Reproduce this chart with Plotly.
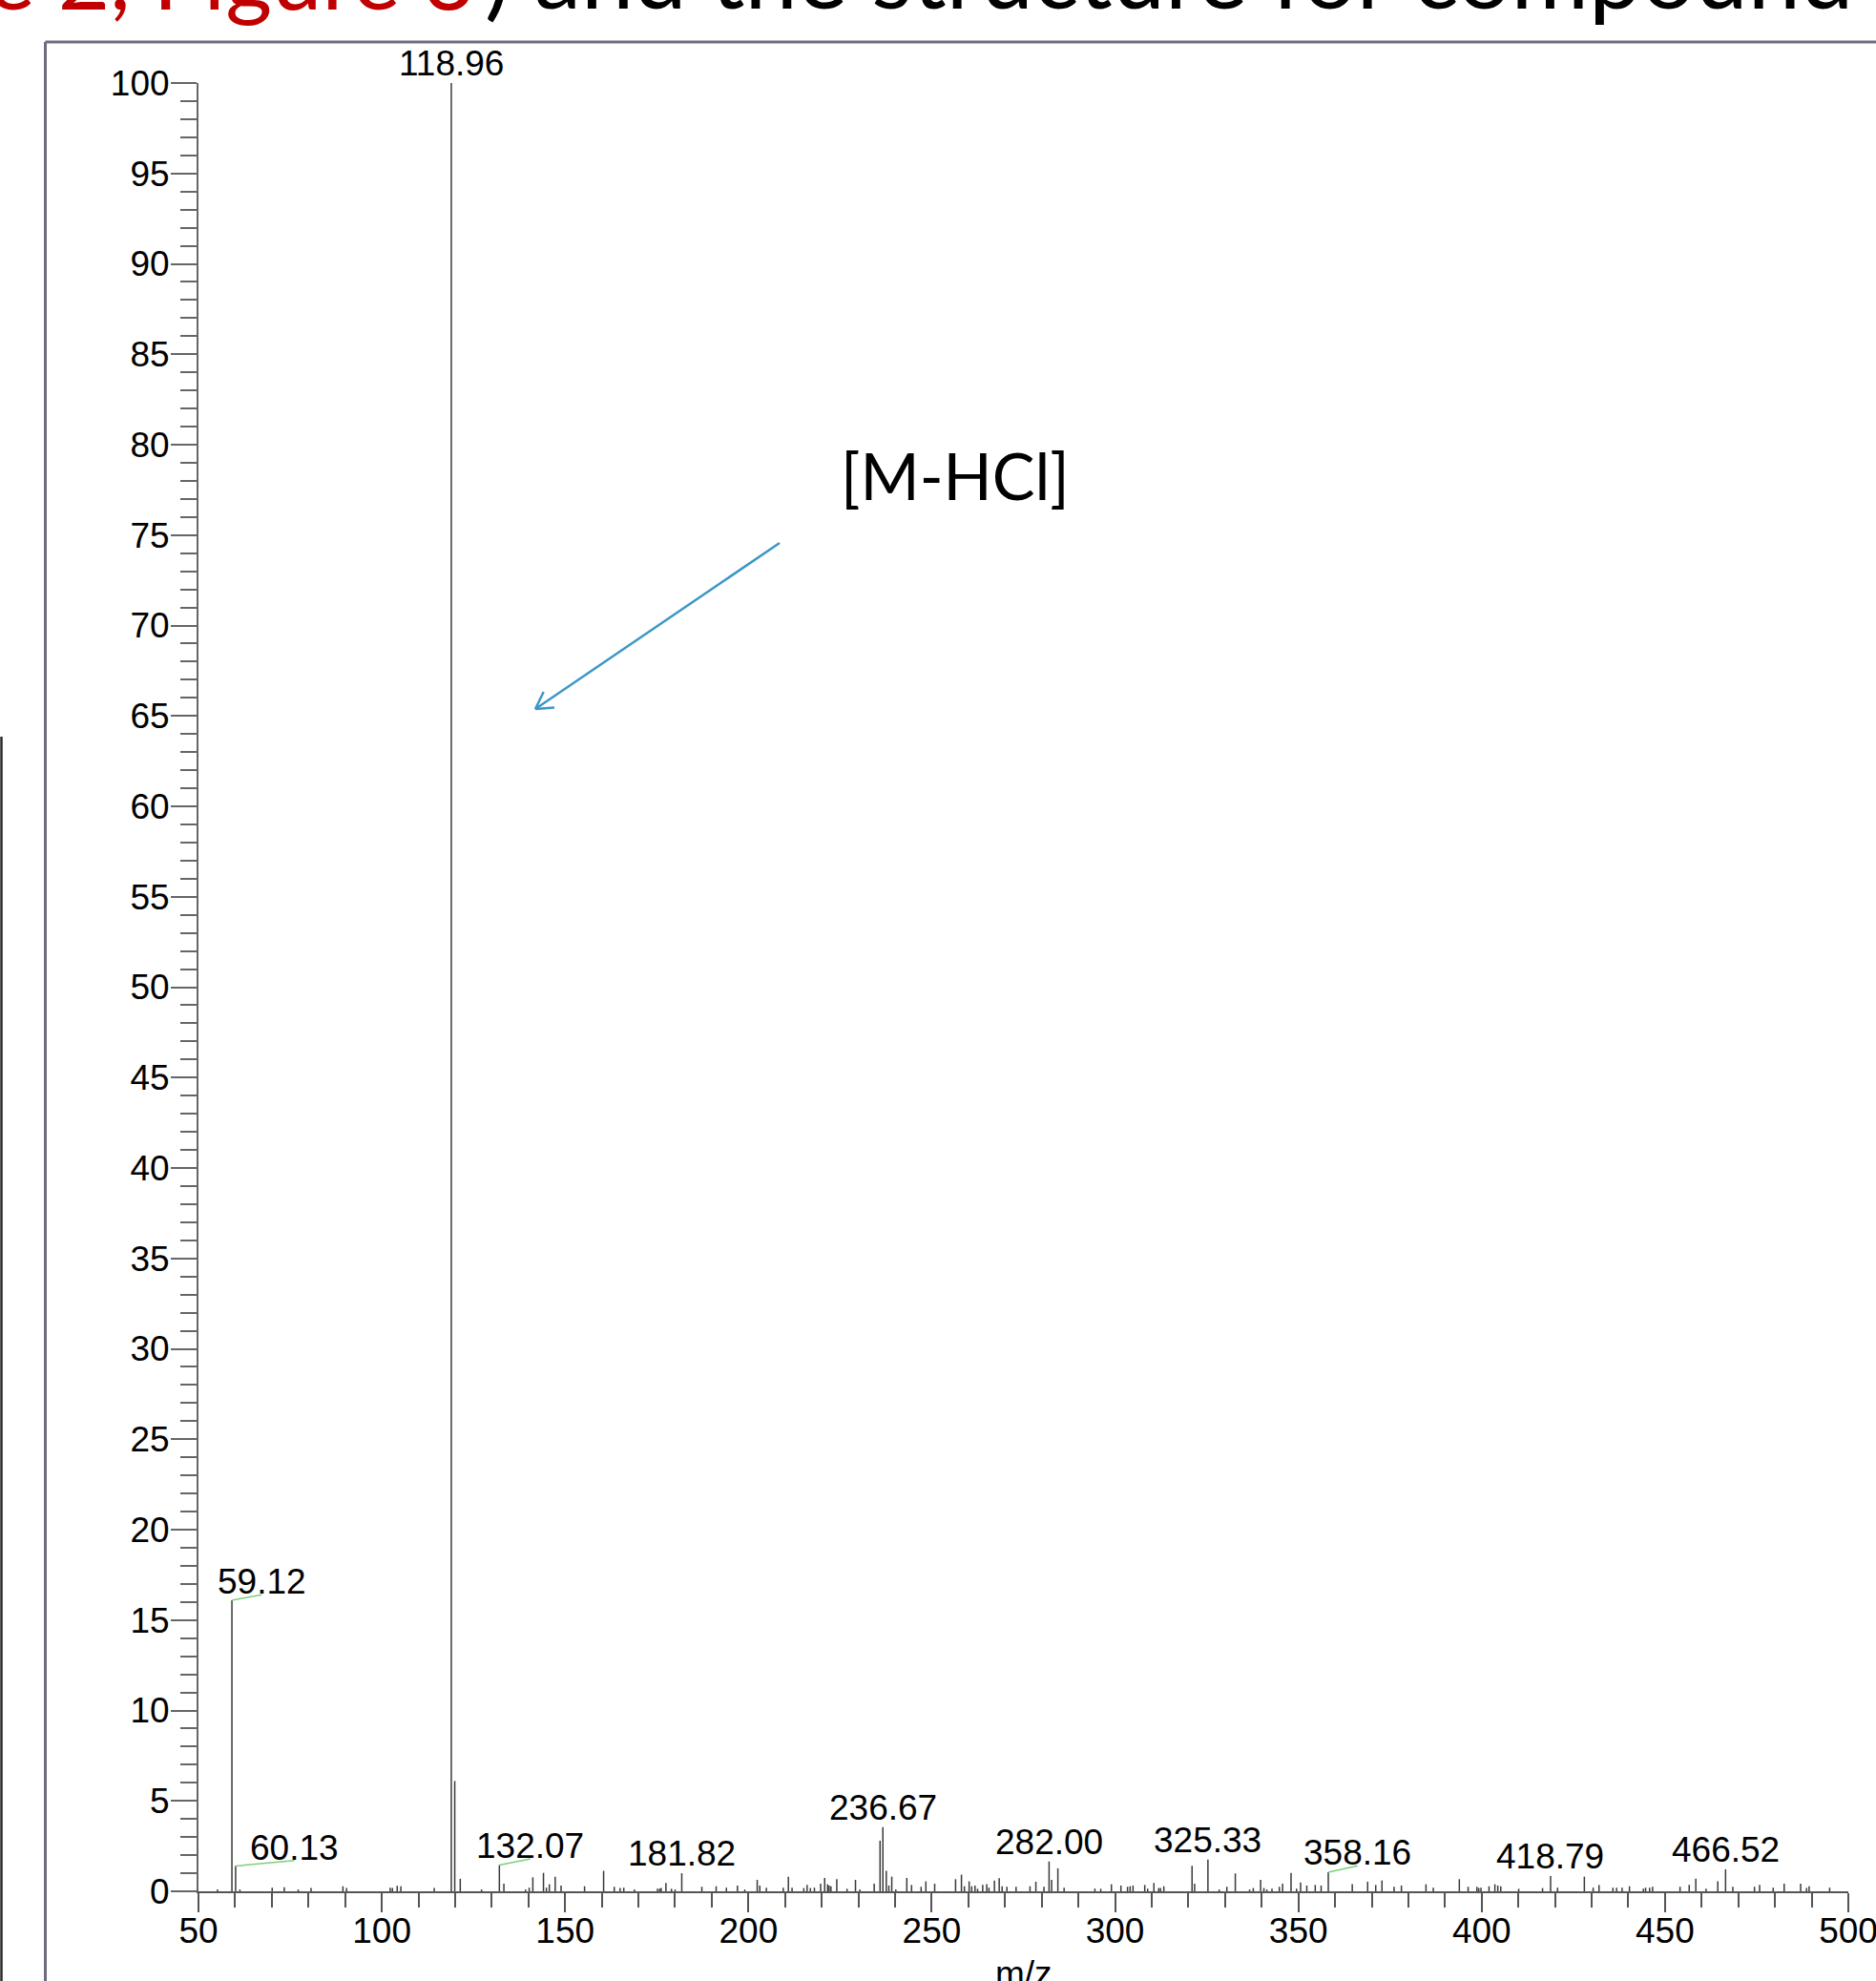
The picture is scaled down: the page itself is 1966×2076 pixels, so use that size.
import plotly.graph_objects as go
import math

# ---------------- data ----------------
mz = [55.2, 59.12, 60.13, 61.3, 70.1, 73.4, 77.2, 80.7, 89.4, 90.4, 102.3, 102.9, 104.2, 105.2, 114.3,
      118.96, 119.9, 121.4, 127.2, 132.07, 133.3, 139.2, 140.2, 141.2, 144.1, 144.9, 145.7, 147.3, 148.9,
      155.3, 160.5, 163.4, 165.0, 166.0, 168.9, 175.2, 175.8, 176.2, 177.5, 179.0, 180.0, 181.82, 187.3,
      191.2, 194.0, 197.0, 199.0, 202.4, 203.1, 204.9, 209.5, 210.9, 211.9, 215.1, 216.0, 216.9, 218.0,
      219.7, 220.8, 221.6, 222.0, 222.5, 224.1, 226.9, 229.2, 230.4, 234.3, 235.9, 236.67, 237.6, 238.3,
      239.1, 240.2, 243.2, 244.5, 247.1, 248.4, 250.8, 256.5, 258.1, 258.9, 260.2, 260.9, 261.8, 262.5,
      263.9, 265.0, 265.6, 267.1, 268.4, 269.2, 270.5, 273.0, 276.8, 278.4, 280.6, 282.00, 282.7, 284.4,
      286.1, 294.5, 296.1, 299.0, 301.6, 303.4, 304.1, 304.9, 308.1, 308.9, 310.6, 311.9, 312.4, 313.3,
      321.0, 321.7, 325.33, 328.4, 330.5, 332.8, 336.7, 337.7, 339.7, 340.6, 341.4, 342.8, 344.8, 345.7,
      348.0, 349.5, 350.6, 352.3, 354.6, 356.2, 358.16, 364.7, 368.9, 371.1, 372.8, 376.1, 378.1, 384.8,
      386.8, 393.9, 396.3, 398.7, 399.2, 399.8, 402.0, 403.6, 404.4, 405.2, 410.1, 416.6, 418.79, 420.7,
      428.0, 430.4, 432.0, 435.8, 436.8, 438.3, 440.3, 444.1, 444.7, 445.8, 446.6, 454.1, 456.6, 458.4,
      461.2, 464.4, 466.52, 468.5, 474.4, 475.8, 479.5, 482.5, 487.0, 488.6, 489.3, 494.9]
intensity = [0.1, 16.1, 1.4, 0.1, 0.2, 0.23, 0.1, 0.18, 0.28, 0.18, 0.2, 0.18, 0.3, 0.28, 0.18,
             100.0, 6.1, 0.69, 0.1, 1.45, 0.42, 0.1, 0.2, 0.77, 1.02, 0.2, 0.39, 0.81, 0.32,
             0.28, 1.13, 0.25, 0.18, 0.2, 0.1, 0.15, 0.15, 0.18, 0.46, 0.14, 0.1, 1.0, 0.25,
             0.28, 0.2, 0.32, 0.1, 0.63, 0.32, 0.2, 0.2, 0.81, 0.2, 0.18, 0.35, 0.18, 0.2,
             0.42, 0.74, 0.39, 0.32, 0.28, 0.67, 0.14, 0.63, 0.1, 0.42, 2.8, 3.55, 1.13, 0.32,
             0.81, 0.1, 0.74, 0.35, 0.25, 0.55, 0.42, 0.67, 0.92, 0.28, 0.55, 0.28, 0.32, 0.14,
             0.35, 0.4, 0.2, 0.6, 0.72, 0.28, 0.25, 0.25, 0.28, 0.53, 0.25, 1.65, 0.63, 1.27,
             0.2, 0.15, 0.14, 0.39, 0.32, 0.25, 0.28, 0.32, 0.35, 0.14, 0.46, 0.18, 0.18, 0.28,
             1.41, 0.42, 1.75, 0.1, 0.25, 0.99, 0.1, 0.18, 0.63, 0.18, 0.1, 0.14, 0.25, 0.42,
             1.02, 0.15, 0.49, 0.32, 0.35, 0.32, 1.06, 0.39, 0.53, 0.35, 0.6, 0.25, 0.32, 0.39,
             0.2, 0.67, 0.25, 0.25, 0.18, 0.2, 0.28, 0.39, 0.32, 0.28, 0.14, 0.18, 0.85, 0.2,
             0.81, 0.2, 0.35, 0.2, 0.2, 0.2, 0.28, 0.14, 0.2, 0.2, 0.25, 0.25, 0.35, 0.7,
             0.14, 0.56, 1.22, 0.25, 0.25, 0.35, 0.2, 0.42, 0.42, 0.18, 0.28, 0.2]

label_mz = [59.12, 60.13, 118.96, 132.07, 181.82, 236.67, 282.00, 325.33, 358.16, 418.79, 466.52]
label_text = ["59.12", "60.13", "118.96", "132.07", "181.82", "236.67", "282.00", "325.33",
              "358.16", "418.79", "466.52"]
# label offsets (green leader lines) in data units: (dx, dy); zero -> label directly above peak
label_dx = [8.1, 16.0, 0, 8.5, 0, 0, 0, 0, 8.0, 0, 0]
label_dy = [0.3, 0.3, 0, 0.35, 0, 0, 0, 0, 0.35, 0, 0]

x_ticks = [50, 100, 150, 200, 250, 300, 350, 400, 450, 500]
y_ticks = [0, 5, 10, 15, 20, 25, 30, 35, 40, 45, 50, 55, 60, 65, 70, 75, 80, 85, 90, 95, 100]

title_red = "e 2, Figure 3"
title_black = ") and the structure for compound"
callout = "[M-HCl]"
x_title = "m/z"

# ---------------- layout geometry (pixels) ----------------
W, H = 1966, 2076
L, R, T, B = 208, 1937, 87, 1982


def px(xp):
    return (xp - L) / (R - L)


def py(yp):
    return (B - yp) / (B - T)


TICKFONT = dict(family="Liberation Sans, Arial, sans-serif", size=37, color="#000000")

# stick spectrum
xs, ys = [], []
for m, v in zip(mz, intensity):
    xs += [m, m, None]
    ys += [0, v, None]

fig = go.Figure()
fig.add_trace(go.Scatter(x=xs, y=ys, mode="lines",
                         line=dict(color="#3a3a3a", width=1.5),
                         hoverinfo="skip", showlegend=False))

annotations = []
shapes = []
lookup = dict(zip(mz, intensity))
for m, t, dx, dy in zip(label_mz, label_text, label_dx, label_dy):
    v = lookup[m]
    shift = -2
    if dx != 0:
        shift = -9
        shapes.append(dict(type="line", xref="x", yref="y", x0=m, y0=v, x1=m + dx, y1=v + dy,
                           line=dict(color="#7ccf7c", width=1.5)))
    annotations.append(dict(x=m + dx, y=v + dy, xref="x", yref="y", text=t, showarrow=False,
                            xanchor="center", yanchor="bottom", font=TICKFONT, yshift=shift))

# slide title fragments (cut at top)
annotations.append(dict(x=px(500), y=py(32), xref="paper", yref="paper", text=title_red,
                        showarrow=False, xanchor="right", yanchor="bottom",
                        font=dict(family="Lato, Open Sans, sans-serif", size=94, color="#C00000")))
annotations.append(dict(x=px(506), y=py(32), xref="paper", yref="paper", text=title_black,
                        showarrow=False, xanchor="left", yanchor="bottom",
                        font=dict(family="Lato, Open Sans, sans-serif", size=99, color="#000000")))
# callout
annotations.append(dict(x=px(1001), y=py(498), xref="paper", yref="paper", text=callout,
                        showarrow=False, xanchor="center", yanchor="middle",
                        font=dict(family="Lato, Open Sans, sans-serif", size=67, color="#000000")))
# axis title
annotations.append(dict(x=0.5, y=py(2046), xref="paper", yref="paper", text=x_title,
                        showarrow=False, xanchor="center", yanchor="top", font=TICKFONT))

# blue arrow (line + open head)
tx, ty, hx, hy = 817, 569, 561, 743
ang = math.atan2(ty - hy, tx - hx)
hl = 20
arrow_col = "#3b97c6"
shapes.append(dict(type="line", xref="paper", yref="paper", x0=px(tx), y0=py(ty), x1=px(hx), y1=py(hy),
                   line=dict(color=arrow_col, width=2.5)))
for s in (-1, 1):
    a = ang + s * math.radians(30)
    shapes.append(dict(type="line", xref="paper", yref="paper", x0=px(hx), y0=py(hy),
                       x1=px(hx + hl * math.cos(a)), y1=py(hy + hl * math.sin(a)),
                       line=dict(color=arrow_col, width=2.5)))

# slide frame pieces
frame_col = "#6c6c7c"
shapes.append(dict(type="line", xref="paper", yref="paper", x0=px(47.5), y0=py(44), x1=px(1990), y1=py(44),
                   line=dict(color=frame_col, width=3)))
shapes.append(dict(type="line", xref="paper", yref="paper", x0=px(47.5), y0=py(44), x1=px(47.5), y1=py(2100),
                   line=dict(color=frame_col, width=3)))
shapes.append(dict(type="line", xref="paper", yref="paper", x0=px(1.5), y0=py(772), x1=px(1.5), y1=py(2100),
                   line=dict(color="#2a2a2a", width=2.5)))

fig.update_layout(
    width=W, height=H,
    margin=dict(l=L, r=W - R, t=T, b=H - B, pad=0, autoexpand=False),
    paper_bgcolor="white", plot_bgcolor="white",
    annotations=annotations, shapes=shapes,
    showlegend=False,
    xaxis=dict(range=[50, 500], tickvals=x_ticks, ticktext=[str(v) for v in x_ticks],
               ticks="outside", ticklen=20, tickwidth=1.5, tickcolor="#555555", automargin=False,
               ticklabeloverflow="allow", ticklabelstandoff=-12,
               showline=True, linecolor="#555555", linewidth=1.5, showgrid=False, zeroline=False,
               tickfont=TICKFONT,
               minor=dict(dtick=10, tick0=50, ticks="outside", ticklen=15, tickwidth=1.5, tickcolor="#555555")),
    yaxis=dict(range=[0, 100], tickvals=y_ticks, ticktext=[str(v) for v in y_ticks],
               ticks="outside", ticklen=27, tickwidth=1.5, tickcolor="#666666", automargin=False,
               ticklabeloverflow="allow", ticklabelstandoff=-6,
               showline=True, linecolor="#666666", linewidth=2, showgrid=False, zeroline=False,
               tickfont=TICKFONT,
               minor=dict(dtick=1, tick0=0, ticks="outside", ticklen=17, tickwidth=1.5, tickcolor="#666666")),
)

fig.write_html("out.html", config={"displayModeBar": False},
               post_script="document.body.style.margin='0';document.body.style.overflow='hidden';")
